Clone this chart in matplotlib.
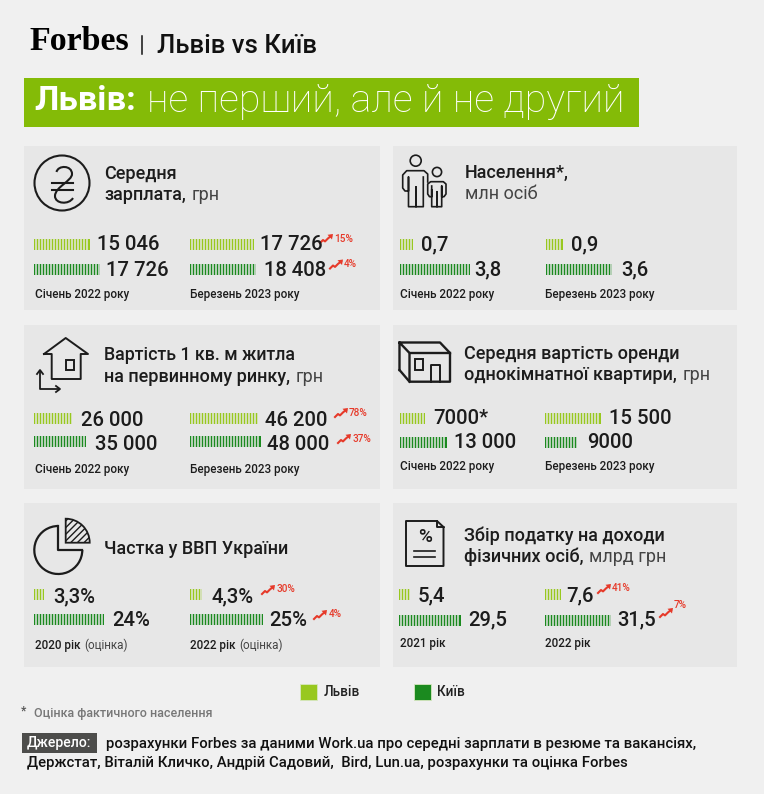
import matplotlib
matplotlib.use("Agg")
import matplotlib.pyplot as plt
from matplotlib.patches import Circle, Polygon, Rectangle, Wedge, Arc, PathPatch
from matplotlib.path import Path
import numpy as np

# ---------- data ----------
cities = ["Львів", "Київ"]
salary_lviv = [15046, 17726]
salary_kyiv = [17726, 18408]
salary_lviv_text = ["15 046", "17 726"]
salary_kyiv_text = ["17 726", "18 408"]
population_lviv = [0.7, 0.9]
population_kyiv = [3.8, 3.6]
population_lviv_text = ["0,7", "0,9"]
population_kyiv_text = ["3,8", "3,6"]
housing_lviv = [26000, 46200]
housing_kyiv = [35000, 48000]
housing_lviv_text = ["26 000", "46 200"]
housing_kyiv_text = ["35 000", "48 000"]
rent_lviv = [7000, 15500]
rent_kyiv = [13000, 9000]
rent_lviv_text = ["7000*", "15 500"]
rent_kyiv_text = ["13 000", "9000"]
gdp_lviv = [3.3, 4.3]
gdp_kyiv = [24, 25]
gdp_lviv_text = ["3,3%", "4,3%"]
gdp_kyiv_text = ["24%", "25%"]
tax_lviv = [5.4, 7.6]
tax_kyiv = [29.5, 31.5]
tax_lviv_text = ["5,4", "7,6"]
tax_kyiv_text = ["29,5", "31,5"]
months = ["Січень 2022 року", "Березень 2023 року"]

# ---------- canvas ----------
BG, PANEL, INK = "#f0f0f0", "#e7e7e7", "#1c1c1c"
LV, KY, RED = "#98c81f", "#1b8a1f", "#e63a2a"
FONT = "Roboto"
fig = plt.figure(figsize=(7.64, 7.94), dpi=100, facecolor=BG)
ax = fig.add_axes([0, 0, 1, 1])
ax.set_xlim(0, 764); ax.set_ylim(794, 0); ax.axis("off")
PT = 0.72


def T(x, y, s, px, weight="normal", color=INK, family=FONT, ha="left", va="center"):
    return ax.text(x, y, s, fontsize=px * PT, fontweight=weight, color=color,
                   family=family, ha=ha, va=va)


def runs(x, y, parts, px):
    r = fig.canvas.get_renderer()
    for s, w, c in parts:
        t = T(x, y, s, px, w, c, va="center_baseline")
        x = t.get_window_extent(r).x1 + px * 0.3


def bar(x, top, h, value, scale, color):
    w = value * scale
    ax.barh(top + h / 2, w, left=x, height=h, color=color, linewidth=0)
    ax.vlines(np.arange(x + 2.2, x + w, 3.0), top - 0.5, top + h + 0.5, color=PANEL, lw=1.5 * PT)


def trend(x, y, s, tx=None, ty=None):
    """x,y: lower-left of the arrow (pixels)"""
    ax.plot([x, x + 3, x + 5, x + 8, x + 11], [y, y - 3, y - 1.6, y - 4.6, y - 7],
            color=RED, lw=1.5, solid_joinstyle="round")
    ax.add_patch(Polygon([[x + 13, y - 9], [x + 7.5, y - 8.2], [x + 12, y - 3.5]], color=RED, lw=0))
    T(tx if tx else x + 14.5, ty if ty else y - 5, s, 10, "medium", RED)


def group(xb, yb, h, lv, ky, lvt, kyt, xt, yt, scale):
    bar(xb, yb[0], h, lv, scale, LV)
    bar(xb, yb[1], h, ky, scale, KY)
    T(xt[0], yt[0] - 1, lvt, 20.3, "medium", va="center_baseline")
    T(xt[1], yt[1] - 1, kyt, 20.3, "medium", va="center_baseline")


def under(x, y, bold, rest=None):
    parts = [(bold, "medium", INK)]
    if rest:
        parts.append((rest, "normal", "#444444"))
    runs(x, y, parts, 11.6)


# ---------- header ----------
T(29, 42, "Forbes", 34, "bold", "#000000", "Liberation Serif")
ax.plot([142, 142], [36, 54], color="#111111", lw=1.1)
T(157, 46, "Львів vs Київ", 25.8, "medium", "#111111")
ax.add_patch(Rectangle((24, 78), 615, 48.5, color="#84bb07", lw=0))
T(34, 101, "Львів:", 34.5, "bold", "white", va="center")
T(147, 101, "не перший, але й не другий", 39.2, "light", "white", va="center")

# ---------- panels ----------
for x, w in ((24, 356), (393, 344)):
    for y, h in ((146, 164), (325, 164), (503, 164)):
        ax.add_patch(Rectangle((x, y), w, h, color=PANEL, lw=0))

GR = "#444444"
TPX = 18

# salary
runs(104, 172, [("Середня", "medium", INK)], TPX)
runs(104, 193, [("зарплата,", "medium", INK), ("грн", "normal", GR)], TPX)
ax.add_patch(Circle((62, 183), 27.5, fill=False, ec=INK, lw=1.5))
ax.add_patch(PathPatch(Path([(56.5, 172), (58, 165), (72, 165), (72, 174), (72, 181), (55, 187), (55, 196), (55, 204), (69, 205), (73, 198)],
                            [Path.MOVETO] + [Path.CURVE4] * 9), fill=False, ec=INK, lw=1.5))
ax.plot([51.7, 73.3], [183, 183], color=INK, lw=1.5)
ax.plot([51.7, 73.3], [189.5, 189.5], color=INK, lw=1.5)
group(34, (239, 264), 11, salary_lviv[0], salary_kyiv[0], salary_lviv_text[0], salary_kyiv_text[0],
      (97, 106), (244, 269), 0.0037)
group(190, (239, 264), 11, salary_lviv[1], salary_kyiv[1], salary_lviv_text[1], salary_kyiv_text[1],
      (260, 264), (244, 269), 0.0036)
under(35, 293, months[0]); under(190, 293, months[1])
trend(320, 243, "15%", 334, 238.5); trend(330, 268.5, "4%", 344, 264)

# population
runs(465, 171, [("Населення*,", "medium", INK)], TPX)
runs(465, 192, [("млн осіб", "normal", GR)], TPX)
group(400, (239, 264), 11, population_lviv[0], population_kyiv[0], population_lviv_text[0], population_kyiv_text[0],
      (421, 474.5), (244, 269), 18.4)
group(546, (239, 264), 11, population_lviv[1], population_kyiv[1], population_lviv_text[1], population_kyiv_text[1],
      (570.5, 621), (244, 269), 18.4)
under(400, 293, months[0]); under(545, 293, months[1])
ax.add_patch(Circle((415.7, 160.7), 5.5, fill=False, ec=INK, lw=1.2))
ax.add_patch(Circle((437, 172), 4.6, fill=False, ec=INK, lw=1.2))
ax.plot([427.7, 427.7, 424, 406.7, 402.7, 402.7, 405, 408.5, 408.5, 408.5, 416, 416, 416, 423.3, 423.3],
        [182, 174, 170.7, 170.7, 175, 188, 191, 191, 177, 206.7, 206.7, 187, 206.7, 206.7, 177], color=INK, lw=1.2)
ax.plot([431.7, 431.7, 437, 437, 437, 441.7, 441.7, 441.7, 444, 446, 446, 443.3, 430.7, 427.7, 427.7, 429.5, 431.7, 431.7],
        [190, 206.7, 206.7, 191.7, 206.7, 206.7, 186, 196.7, 196.7, 194, 184, 181.7, 181.7, 184, 194, 196.7, 196.7, 186],
        color=INK, lw=1.2)

# housing
runs(104, 353, [("Вартість 1 кв. м житла", "medium", INK)], TPX - 0.3)
runs(104, 375, [("на первинному ринку,", "medium", INK), ("грн", "normal", GR)], TPX)
group(34, (413, 436), 11, housing_lviv[0], housing_kyiv[0], housing_lviv_text[0], housing_kyiv_text[0],
      (81, 95), (419, 443), 0.00148)
group(190, (413, 436), 11, housing_lviv[1], housing_kyiv[1], housing_lviv_text[1], housing_kyiv_text[1],
      (265, 267), (419, 443), 0.00148)
under(35, 468, months[0]); under(190, 468, months[1])
trend(335, 417, "78%", 349, 413); trend(338, 443, "37%", 353, 439)
ax.plot([44, 65.7, 88, 80.7, 80.7, 51.7, 51.7, 44], [354, 338, 354, 354, 379, 379, 354, 354], color=INK, lw=1.4)
ax.add_patch(Rectangle((65.7, 360), 8.3, 10, fill=False, ec=INK, lw=1.4))
ax.plot([40, 40, 59], [371, 389, 389], color=INK, lw=1.3)
ax.plot([37, 40, 43], [374, 370, 374], color=INK, lw=1.3)
ax.plot([56, 60, 56], [386, 389, 392], color=INK, lw=1.3)

# rent
runs(464, 352, [("Середня вартість оренди", "medium", INK)], TPX)
runs(464, 373, [("однокімнатної квартири,", "medium", INK), ("грн", "normal", GR)], TPX)
group(400, (413, 437), 10.5, rent_lviv[0], rent_kyiv[0], rent_lviv_text[0], rent_kyiv_text[0],
      (433, 454), (418, 441.5), 0.0036)
group(545, (413, 437), 10.5, rent_lviv[1], rent_kyiv[1], rent_lviv_text[1], rent_kyiv_text[1],
      (609, 587), (418, 441.5), 0.0036)
under(400, 465, months[0]); under(545, 465, months[1])
ax.plot([399.5, 440, 450, 450, 409.5, 409.5, 399.5, 399.5], [342.5, 342.5, 353, 381.7, 381.7, 353, 342.5, 370], color=INK, lw=1.7)
ax.plot([399.5, 409.5], [370, 381.7], color=INK, lw=1.7)
ax.plot([409.5, 450], [353, 353], color=INK, lw=1.7)
ax.add_patch(Rectangle((415, 358.5), 7.7, 11.5, fill=False, ec=INK, lw=1.4))
ax.plot([431, 431, 440, 440], [381.7, 364.5, 364.5, 381.7], color=INK, lw=1.4)

# gdp
runs(104, 547, [("Частка у ВВП України", "medium", INK)], TPX)
group(34, (589, 614), 11, gdp_lviv[0], gdp_kyiv[0], gdp_lviv_text[0], gdp_kyiv_text[0],
      (53, 112), (596, 619), 2.9)
group(190, (589, 614), 11, gdp_lviv[1], gdp_kyiv[1], gdp_lviv_text[1], gdp_kyiv_text[1],
      (212, 269), (596, 619), 2.9)
under(35, 644, "2020 рік", "(оцінка)"); under(190, 644, "2022 рік", "(оцінка)")
trend(262, 594, "30%", 276.5, 589); trend(314, 619, "4%", 329, 614)
ax.add_patch(Arc((58.3, 550), 48, 48, theta1=0, theta2=270, ec=INK, lw=1.6))
ax.plot([58.3, 58.3, 82.3], [526, 550, 550], color=INK, lw=1.6)
ax.add_patch(Wedge((65.7, 542.7), 24, 270, 360, fc="none", ec=INK, lw=1.3, hatch="/////"))

# tax
runs(464, 534, [("Збір податку на доходи", "medium", INK)], TPX)
runs(464, 555, [("фізичних осіб,", "medium", INK), ("млрд грн", "normal", GR)], TPX)
group(399, (589, 615), 11, tax_lviv[0], tax_kyiv[0], tax_lviv_text[0], tax_kyiv_text[0],
      (418, 468), (595, 619), 2.1)
group(545, (589, 615), 11, tax_lviv[1], tax_kyiv[1], tax_lviv_text[1], tax_kyiv_text[1],
      (566, 617), (595, 619), 2.1)
under(400, 642, "2021 рік"); under(545, 642, "2022 рік")
trend(598, 593, "41%", 612, 588); trend(660, 617, "7%", 674, 605)
ax.plot([437, 406, 406, 443.5, 443.5, 437, 437, 443.5], [521, 521, 566, 566, 527, 521, 527, 527], color=INK, lw=1.4)
T(425, 536.5, "%", 19, "medium", ha="center")
ax.plot([414, 435], [550.7, 550.7], color=INK, lw=1.2)
ax.plot([414, 435], [557.3, 557.3], color=INK, lw=1.2)

# ---------- legend & notes ----------
for x, c, name in ((300, LV, cities[0]), (414, KY, cities[1])):
    ax.add_patch(Rectangle((x, 684), 16.5, 16, fc=c, ec="#d7e8c0", lw=0.6))
    T(x + 23.5, 692, name, 13.5, "medium", "#222222")
T(21, 711, "*", 12, "medium", "#555555")
T(34, 713, "Оцінка фактичного населення", 12.5, "medium", "#777777")
ax.add_patch(Rectangle((22, 733), 75, 20, color="#4d4d4b", lw=0))
T(27, 743.5, "Джерело:", 14, "medium", "white")
T(106, 744, "розрахунки Forbes за даними Work.ua про середні зарплати в резюме та вакансіях,", 14.9, "medium", "#111111")
T(27, 763, "Держстат, Віталій Кличко, Андрій Садовий,  Bird, Lun.ua, розрахунки та оцінка Forbes", 14.9, "medium", "#111111")

fig.savefig("out.png", dpi=100, facecolor=BG)
